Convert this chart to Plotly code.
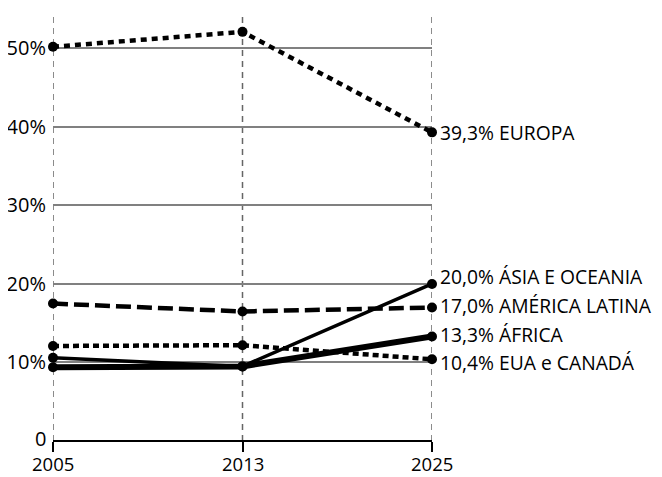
import plotly.graph_objects as go

years = ["2005", "2013", "2025"]
europa = [50.2, 52.1, 39.3]
america_latina = [17.5, 16.5, 17.0]
eua_canada = [12.1, 12.2, 10.4]
asia_oceania = [10.6, 9.5, 20.0]
africa = [9.4, 9.5, 13.3]
labels = ["39,3% EUROPA", "17,0% AMÉRICA LATINA", "10,4% EUA e CANADÁ",
          "20,0% ÁSIA E OCEANIA", "13,3% ÁFRICA"]
y_ticks = [0, 10, 20, 30, 40, 50]
y_ticktext = ["0", "10%", "20%", "30%", "40%", "50%"]

FONT = "Open Sans, Noto Sans, sans-serif"
FS = 20
FS_LAB = 19.3

# (values, dash, width, label y-shift)
series = [
    (europa, "6px,5px", 4.5, 0),
    (america_latina, "15px,6px", 4.5, 2),
    (eua_canada, "6px,4px", 4.5, -3),
    (asia_oceania, "solid", 3.5, 7),
    (africa, "solid", 6, 2),
]

fig = go.Figure()

# vertical dashed guide lines at each year
for i, _ in enumerate(years):
    fig.add_shape(type="line", xref="x", yref="paper", x0=i, x1=i, y0=0, y1=1,
                  line=dict(color="#666666", width=1.5, dash="6px,5px"),
                  layer="below")

for vals, dash, w, _ in series:
    fig.add_trace(go.Scatter(
        x=list(range(len(years))), y=vals, mode="lines+markers",
        line=dict(color="black", width=w, dash=dash),
        marker=dict(color="black", size=10),
        showlegend=False, cliponaxis=False,
    ))

for (vals, _, _, ys), lab in zip(series, labels):
    fig.add_annotation(x=len(years) - 1, y=vals[-1], text=lab, showarrow=False,
                       xanchor="left", yanchor="middle", xshift=6, yshift=ys,
                       font=dict(size=FS_LAB, color="black", family=FONT))

# x tick labels (placed as annotations so they sit fully inside the page)
for i, yr in enumerate(years):
    fig.add_annotation(x=i, xref="x", y=0, yref="paper", text=yr, showarrow=False,
                       xanchor="center", yanchor="bottom", yshift=-36, borderpad=0,
                       font=dict(size=18.5, color="black", family=FONT))

# the "0" y label, drawn separately so it does not collide with "2005"
y_axis_text = [t if v != 0 else "" for v, t in zip(y_ticks, y_ticktext)]
fig.add_annotation(x=0, xref="paper", y=0, yref="y", text=y_ticktext[0],
                   showarrow=False, xanchor="right", yanchor="middle",
                   xshift=-6, yshift=3, borderpad=0,
                   font=dict(size=FS, color="black", family=FONT))

# page body has an 8px margin, so the figure is sized to fit the window
fig.update_layout(
    width=654, height=469,
    margin=dict(l=45, r=230, t=5, b=36, autoexpand=False),
    paper_bgcolor="white", plot_bgcolor="white",
    font=dict(family=FONT, size=FS, color="black"),
    xaxis=dict(
        range=[0, len(years) - 1], tickvals=list(range(len(years))),
        showticklabels=False,
        showgrid=False, showline=False, ticks="outside", ticklen=10, tickwidth=1.5,
        tickcolor="black", zeroline=False, automargin=False,
    ),
    yaxis=dict(
        range=[0, 54.5], tickvals=y_ticks, ticktext=y_axis_text,
        showgrid=True, gridcolor="#808080", gridwidth=1.5,
        zeroline=True, zerolinecolor="black", zerolinewidth=2,
        showline=False, ticks="", ticklabelstandoff=6,
        tickfont=dict(size=FS), automargin=False,
    ),
)

fig.write_html("out.html")
